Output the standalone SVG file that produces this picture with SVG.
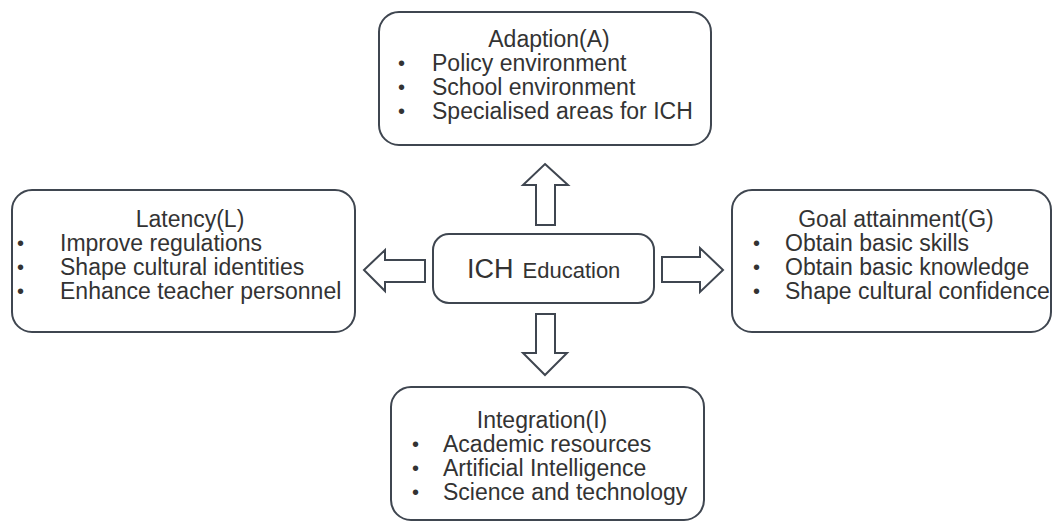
<svg xmlns="http://www.w3.org/2000/svg" width="1053" height="523" viewBox="0 0 1053 523">
  <style>
    .box { fill: #ffffff; stroke: #3f4650; stroke-width: 2; }
    .arrow { fill: #ffffff; stroke: #3f4650; stroke-width: 2; stroke-linejoin: miter; }
    text { font-family: "Liberation Sans", Arial, sans-serif; fill: #333333; }
    .title { font-size: 23px; text-anchor: middle; }
    .item { font-size: 23px; }
    .dot { font-size: 20px; }
  </style>
  <rect width="1053" height="523" fill="#ffffff"/>

  <!-- Centre: ICH Education -->
  <g id="center">
    <rect class="box" x="433" y="234" width="221" height="69" rx="16"/>
    <text x="467" y="278"><tspan font-size="27">ICH</tspan><tspan font-size="22" dx="9">Education</tspan></text>
  </g>

  <!-- Adaption (A), top -->
  <g id="adaption">
    <rect class="box" x="379" y="12" width="332" height="133" rx="20"/>
    <text class="title" x="549" y="47">Adaption(A)</text>
    <text class="dot" x="398" y="70">•</text>
    <text class="item" x="432" y="71">Policy environment</text>
    <text class="dot" x="398" y="94">•</text>
    <text class="item" x="432" y="95">School environment</text>
    <text class="dot" x="398" y="118">•</text>
    <text class="item" x="432" y="119">Specialised areas for ICH</text>
  </g>

  <!-- Latency (L), left -->
  <g id="latency">
    <rect class="box" x="12" y="190" width="343" height="142" rx="20"/>
    <text class="title" x="190" y="227">Latency(L)</text>
    <text class="dot" x="17" y="250">•</text>
    <text class="item" x="60" y="251">Improve regulations</text>
    <text class="dot" x="17" y="274">•</text>
    <text class="item" x="60" y="275">Shape cultural identities</text>
    <text class="dot" x="17" y="298">•</text>
    <text class="item" x="60" y="299">Enhance teacher personnel</text>
  </g>

  <!-- Goal attainment (G), right -->
  <g id="goal">
    <rect class="box" x="732" y="190" width="319" height="142" rx="20"/>
    <text class="title" x="896" y="227">Goal attainment(G)</text>
    <text class="dot" x="753" y="250">•</text>
    <text class="item" x="785" y="251">Obtain basic skills</text>
    <text class="dot" x="753" y="274">•</text>
    <text class="item" x="785" y="275">Obtain basic knowledge</text>
    <text class="dot" x="753" y="298">•</text>
    <text class="item" x="785" y="299">Shape cultural confidence</text>
  </g>

  <!-- Integration (I), bottom -->
  <g id="integration">
    <rect class="box" x="391" y="387" width="313" height="133" rx="20"/>
    <text class="title" x="542" y="428">Integration(I)</text>
    <text class="dot" x="412" y="451">•</text>
    <text class="item" x="443" y="452">Academic resources</text>
    <text class="dot" x="412" y="475">•</text>
    <text class="item" x="443" y="476">Artificial Intelligence</text>
    <text class="dot" x="412" y="499">•</text>
    <text class="item" x="443" y="500">Science and technology</text>
  </g>

  <!-- Block arrows from the centre to each function -->
  <g id="connectors">
    <polygon class="arrow" points="545,164 568,185 555,185 555,225 536,225 536,185 523,185"/>
    <polygon class="arrow" points="545,375 567,353 555,353 555,314 536,314 536,353 523,353"/>
    <polygon class="arrow" points="364,270 385,250 385,260 425,260 425,282 385,282 385,291"/>
    <polygon class="arrow" points="723,270 700,248 700,257 662,257 662,282 700,282 700,292"/>
  </g>
</svg>
